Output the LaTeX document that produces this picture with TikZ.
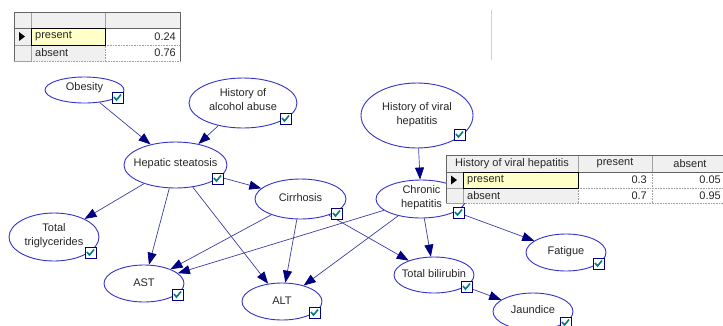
\documentclass[tikz,border=0pt]{standalone}
\usepackage{fontspec}
\setmainfont{Liberation Sans}
\usetikzlibrary{arrows.meta,shapes.geometric}
\definecolor{edgec}{RGB}{60,60,165}
\definecolor{headc}{RGB}{0,0,128}
\definecolor{ellc}{RGB}{51,51,204}
\definecolor{chkc}{RGB}{0,128,128}
\definecolor{gridc}{RGB}{160,160,160}
\definecolor{outc}{RGB}{100,100,100}
\definecolor{cellg}{RGB}{240,240,240}
\definecolor{selc}{RGB}{255,255,200}
\begin{document}
\begin{tikzpicture}[x=1pt,y=-1pt,
  font=\fontsize{11}{14}\selectfont,
  bn/.style={ellipse, draw=ellc, line width=0.9pt, fill=white, inner sep=0pt},
  lbl/.style={align=center, inner sep=0pt, text=black!85},
  edge/.style={draw=edgec, line width=0.7pt, -{Triangle[length=12pt,width=9pt,color=headc]}},
  chk/.style={draw=headc, fill=white, minimum size=11pt, inner sep=0pt, line width=0.8pt,
    path picture={\draw[chkc, line width=1.6pt]
      ([shift={(-3.5pt,0.5pt)}]path picture bounding box.center) --
      ([shift={(-1pt,-2.5pt)}]path picture bounding box.center) --
      ([shift={(3.5pt,3pt)}]path picture bounding box.center);}},
  tcell/.style={inner sep=0pt, text=black!85},
  dotl/.style={gridc, densely dotted, line width=0.6pt},
  solidl/.style={gridc, line width=0.6pt}
]
\useasboundingbox (0,0) rectangle (723,325);

% ---------- nodes ----------
\node[bn, minimum width=79pt, minimum height=26pt] (ob) at (84.5,90) {};
\node[lbl] (obt) at (84.5,87.5) {Obesity};
\node[bn, minimum width=108pt, minimum height=50pt] (aa) at (243,103) {};
\node[lbl] (aat) at (243,100) {History of\\alcohol abuse};
\node[bn, minimum width=103pt, minimum height=46pt] (hs) at (175.5,165) {};
\node[lbl] (hst) at (175.5,164) {Hepatic steatosis};
\node[bn, minimum width=91pt, minimum height=40pt] (ci) at (300.5,199) {};
\node[lbl] (cit) at (300.5,198) {Cirrhosis};
\node[bn, minimum width=112pt, minimum height=65pt] (vh) at (417,115.5) {};
\node[lbl] (vht) at (417,114.5) {History of viral\\hepatitis};
\node[bn, minimum width=90pt, minimum height=38pt] (ch) at (421,199) {};
\node[lbl] (cht) at (421.5,197.5) {Chronic\\hepatitis};
\node[bn, minimum width=90pt, minimum height=48pt] (tg) at (54,237) {};
\node[lbl] (tgt) at (54,235.5) {Total\\triglycerides};
\node[bn, minimum width=80pt, minimum height=37pt] (ast) at (144,283.5) {};
\node[lbl] (astt) at (144,283) {AST};
\node[bn, minimum width=80pt, minimum height=37pt] (alt) at (282,301.5) {};
\node[lbl] (altt) at (282,301) {ALT};
\node[bn, minimum width=80pt, minimum height=36pt] (tb) at (434,275) {};
\node[lbl] (tbt) at (434,274) {Total bilirubin};
\node[bn, minimum width=80pt, minimum height=37pt] (fa) at (566,252.5) {};
\node[lbl] (fat) at (566,252) {Fatigue};
\node[bn, minimum width=80pt, minimum height=37pt] (ja) at (533,311.5) {};
\node[lbl] (jat) at (533,310) {Jaundice};

% ---------- edges ----------
\draw[edge] (ob) -- (hs);
\draw[edge] (aa) -- (hs);
\draw[edge] (hs) -- (ci);
\draw[edge] (hs) -- (tg);
\draw[edge] (hs) -- (ast);
\draw[edge] (hs) -- (alt);
\draw[edge] (vh) -- (ch);
\draw[edge] (ci) -- (ast);
\draw[edge] (ci) -- (alt);
\draw[edge] (ci) -- (tb);
\draw[edge] (ch) -- (ast);
\draw[edge] (ch) -- (alt);
\draw[edge] (ch) -- (tb);
\draw[edge] (ch) -- (fa);
\draw[edge] (tb) -- (ja);

% ---------- check boxes ----------
\node[chk] (obc) at (117.5,97.5) {};
\node[chk] (aac) at (285.5,118.5) {};
\node[chk] (hsc) at (217.5,178.5) {};
\node[chk] (cic) at (336.5,213.5) {};
\node[chk] (vhc) at (459.5,134.5) {};
\node[chk] (chc) at (458.5,212.5) {};
\node[chk] (tgc) at (90.5,252.5) {};
\node[chk] (astc) at (177.5,294.5) {};
\node[chk] (altc) at (314.5,312.5) {};
\node[chk] (tbc) at (466.5,286.5) {};
\node[chk] (fac) at (598.5,263.5) {};
\node[chk] (jac) at (565.5,322.5) {};

% ---------- table 1 ----------
\fill[white] (14,12) rectangle (180,61);
\fill[cellg] (14,12) rectangle (180,28);
\fill[cellg] (14,28) rectangle (31,61);
\fill[cellg] (31,45) rectangle (105,61);
\draw[solidl] (31,12) -- (31,28) (105,12) -- (105,28);
\draw[solidl] (14,45) -- (31,45) (31,28) -- (31,61);
\draw[dotl] (105,45) -- (180,45) (105,28) -- (105,61) (31,61) -- (180,61) (31,45) -- (105,45);
\draw[outc, line width=0.8pt] (14,61) -- (14,12) -- (180,12) -- (180,61);
\draw[outc, line width=0.8pt] (14,28) -- (180,28);
\draw[gridc, line width=0.6pt] (14,61) -- (31,61);
\fill[selc] (31,28) rectangle (105,45);
\draw[black, line width=0.8pt] (31,28) rectangle (105,45);
\fill[black] (19,32) -- (25,36.5) -- (19,41) -- cycle;
\node[tcell, anchor=west] (t1r1) at (35,36.5) {present};
\node[tcell, anchor=east] (t1v1) at (176,36.5) {0.24};
\node[tcell, anchor=west] (t1r2) at (35,53) {absent};
\node[tcell, anchor=east] (t1v2) at (176,53) {0.76};

% faint line
\draw[gridc!50, line width=0.6pt] (491,10) -- (491,60);

% ---------- table 2 ----------
\fill[white] (446,155) rectangle (727,203);
\fill[cellg] (446,155) rectangle (727,172);
\fill[cellg] (446,172) rectangle (463,203);
\fill[cellg] (463,188) rectangle (578,203);
\draw[solidl] (578,155) -- (578,172) (652,155) -- (652,172);
\draw[solidl] (446,188) -- (463,188) (463,172) -- (463,203);
\draw[dotl] (578,188) -- (727,188) (578,172) -- (578,203) (652,172) -- (652,203) (463,203) -- (727,203) (463,188) -- (578,188);
\draw[outc, line width=0.8pt] (446,203) -- (446,155) -- (727,155);
\draw[outc, line width=0.8pt] (446,172) -- (727,172);
\draw[gridc, line width=0.6pt] (446,203) -- (463,203);
\fill[selc] (463,172) rectangle (578,188);
\draw[black, line width=0.8pt] (463,172) rectangle (578,188);
\fill[black] (451,175.5) -- (457,180) -- (451,184.5) -- cycle;
\node[tcell] (t2h1) at (512,163.5) {History of viral hepatitis};
\node[tcell] (t2h2) at (615,163.5) {present};
\node[tcell] (t2h3) at (690,163.5) {absent};
\node[tcell, anchor=west] (t2r1) at (467,180) {present};
\node[tcell, anchor=east] (t2v11) at (647,180) {0.3};
\node[tcell, anchor=east] (t2v12) at (721,180) {0.05};
\node[tcell, anchor=west] (t2r2) at (467,195.5) {absent};
\node[tcell, anchor=east] (t2v21) at (647,195.5) {0.7};
\node[tcell, anchor=east] (t2v22) at (721,195.5) {0.95};
\end{tikzpicture}
\end{document}
